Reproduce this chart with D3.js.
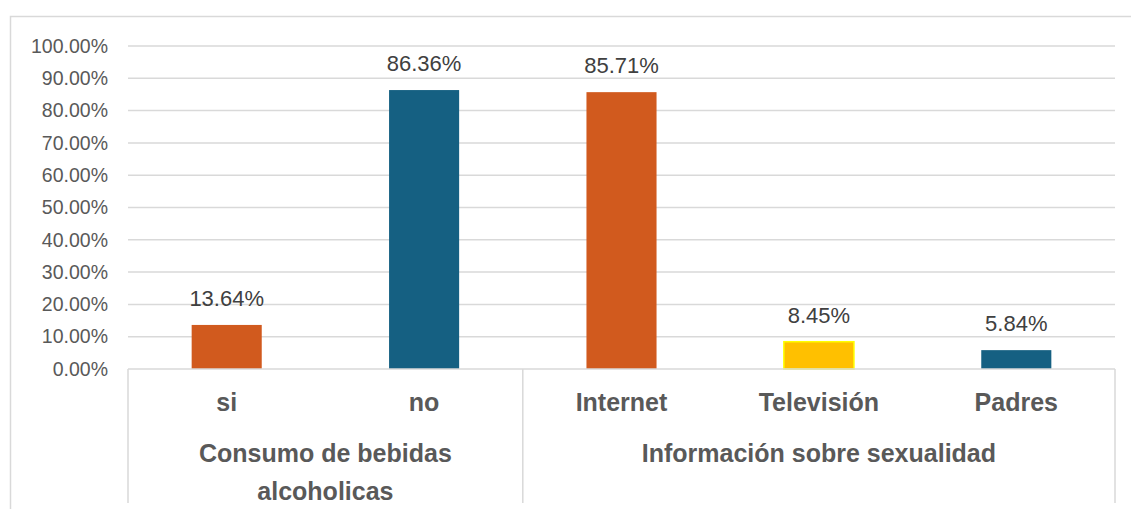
<!DOCTYPE html>
<html>
<head>
<meta charset="utf-8">
<script src="https://cdn.jsdelivr.net/npm/d3@7"></script>
<style>
  body { margin: 0; background: #ffffff; }
  svg { display: block; font-family: "Liberation Sans", Arial, sans-serif; }
</style>
</head>
<body>
<svg id="chart" width="1131" height="509"></svg>
<script>
// Data
const categories = ["si", "no", "Internet", "Televisión", "Padres"];
const values = [0.1364, 0.8636, 0.8571, 0.0845, 0.0584];
const groupLabels = [["Consumo de bebidas", "alcoholicas"], ["Información sobre sexualidad"]];
const groupSizes = [2, 3];
const yTicks = [0, 0.1, 0.2, 0.3, 0.4, 0.5, 0.6, 0.7, 0.8, 0.9, 1.0];

// Bar colours (one per category)
const barFill = ["#D15A1E", "#156082", "#D15A1E", "#FFC000", "#156082"];
const barStroke = ["none", "none", "none", "#FFFF00", "none"];

const svg = d3.select("#chart");

// plot box
const plotLeft = 128, plotRight = 1115, plotTop = 46, plotBottom = 369, boxBottom = 503;
const gridColor = "#d9d9d9";

// outer chart border (only left and top edges are visible in the picture)
svg.append("rect")
    .attr("x", 10.5).attr("y", 16.5)
    .attr("width", 1140).attr("height", 520)
    .attr("fill", "none")
    .attr("stroke", gridColor)
    .attr("stroke-width", 1.5);

// Scales
const x = d3.scaleBand()
    .domain(categories)
    .range([plotLeft, plotRight])
    .paddingInner(0.645)
    .paddingOuter(0.3225);

const y = d3.scaleLinear()
    .domain([0, 1])
    .range([plotBottom, plotTop]);

// Gridlines
svg.append("g")
    .selectAll("line")
    .data(yTicks.filter(d => d > 0))
    .enter()
    .append("line")
    .attr("x1", plotLeft).attr("x2", plotRight)
    .attr("y1", d => y(d)).attr("y2", d => y(d))
    .attr("stroke", gridColor)
    .attr("stroke-width", 1.5);

// Y axis labels
const yAxis = svg.append("g")
    .attr("transform", "translate(" + (plotLeft - 20) + ",0)")
    .call(d3.axisLeft(y).tickValues(yTicks).tickFormat(d3.format(".2%")).tickSize(0).tickPadding(0));
yAxis.select(".domain").remove();
yAxis.selectAll("text")
    .attr("fill", "#595959")
    .style("font-size", "19.5px")
    .style("font-family", "'Liberation Sans', Arial, sans-serif");

// Bars
svg.append("g")
    .selectAll("rect")
    .data(values)
    .enter()
    .append("rect")
    .attr("x", (d, i) => x(categories[i]))
    .attr("y", d => y(d))
    .attr("width", x.bandwidth())
    .attr("height", d => y(0) - y(d))
    .attr("fill", (d, i) => barFill[i])
    .attr("stroke", (d, i) => barStroke[i])
    .attr("stroke-width", 1.5);

// Data labels
svg.append("g")
    .selectAll("text")
    .data(values)
    .enter()
    .append("text")
    .attr("x", (d, i) => x(categories[i]) + x.bandwidth() / 2)
    .attr("y", d => y(d) - 19)
    .attr("text-anchor", "middle")
    .attr("fill", "#404040")
    .style("font-size", "22px")
    .text(d => d3.format(".2%")(d));

// Category axis line and group separators
const half = x.step() * x.paddingInner() / 2;
svg.append("line")
    .attr("x1", plotLeft).attr("x2", plotRight)
    .attr("y1", plotBottom).attr("y2", plotBottom)
    .attr("stroke", gridColor).attr("stroke-width", 1.5);

let start = 0;
const bounds = [plotLeft];
groupSizes.forEach(n => {
    start += n;
    bounds.push(start < categories.length ? x(categories[start]) - half : plotRight);
});
svg.append("g")
    .selectAll("line")
    .data(bounds)
    .enter()
    .append("line")
    .attr("x1", d => d).attr("x2", d => d)
    .attr("y1", plotBottom).attr("y2", boxBottom)
    .attr("stroke", gridColor).attr("stroke-width", 1.5);

// Category labels
svg.append("g")
    .selectAll("text")
    .data(categories)
    .enter()
    .append("text")
    .attr("x", d => x(d) + x.bandwidth() / 2)
    .attr("y", 411)
    .attr("text-anchor", "middle")
    .attr("fill", "#595959")
    .style("font-size", "25px")
    .style("font-weight", "bold")
    .text(d => d);

// Group labels
groupLabels.forEach((lines, i) => {
    const cx = (bounds[i] + bounds[i + 1]) / 2;
    const t = svg.append("text")
        .attr("text-anchor", "middle")
        .attr("fill", "#595959")
        .style("font-size", "25px")
        .style("font-weight", "bold");
    lines.forEach((s, j) => {
        t.append("tspan")
            .attr("x", cx)
            .attr("y", 462 + j * 38)
            .text(s);
    });
});
</script>
</body>
</html>
